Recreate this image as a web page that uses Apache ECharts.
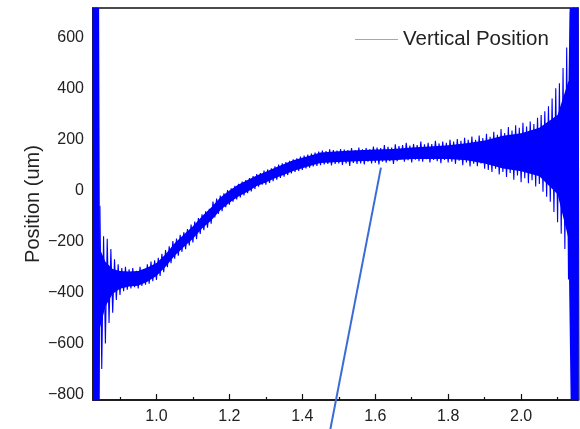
<!DOCTYPE html>
<html>
<head>
<meta charset="utf-8">
<script src="https://cdn.jsdelivr.net/npm/echarts@6/dist/echarts.min.js"></script>
<style>html,body{margin:0;padding:0;background:#fff;}#c{width:580px;height:429px;}</style>
</head>
<body>
<div id="c"></div>
<script>
// x sampling of the recorded trace (start and step of the acquisition grid)
const xStart = 0.825;
const xStep = 0.005;
// Vertical position readings (um), one per sample
const posValues = [
  1500,-1500,1500,-1500,-60,-700,-180,-600,-190,-520,
  -230,-480,-270,-430,-290,-410,-305,-395,-300,-390,
  -310,-385,-305,-380,-315,-385,-300,-375,-310,-370,
  -290,-366,-279,-356,-274,-351,-264,-336,-249,-321,
  -234,-301,-219,-286,-199,-268,-189,-256,-174,-241,
  -164,-231,-152,-216,-134,-204,-122,-191,-109,-171,
  -94,-156,-82,-146,-72,-131,-44,-106,-32,-92,
  -20,-82,-12,-66,1,-56,8,-44,18,-36,
  26,-28,34,-20,40,-11,48,-4,56,6,
  64,14,68,22,78,22,82,29,86,36,
  94,42,101,49,106,54,111,60,116,66,
  122,72,126,76,132,80,136,86,140,89,
  144,94,148,96,152,99,156,102,154,104,
  161,98,158,104,156,106,162,100,160,106,
  158,96,166,108,158,104,168,106,161,102,
  166,112,161,106,172,108,168,102,166,112,
  178,108,171,114,168,104,181,114,174,122,
  178,112,186,118,176,109,182,120,178,114,
  191,112,181,122,186,109,182,119,194,114,
  184,106,191,119,186,109,198,112,191,104,
  201,116,194,99,206,109,198,94,211,104,
  198,95,215,105,205,85,222,80,210,72,
  230,85,218,62,240,72,225,52,248,68,
  235,42,255,58,245,32,265,48,250,28,
  270,40,260,15,285,25,295,-5,310,-25,
  330,-45,360,-85,400,-125,420,-170,480,-230,
  560,-350,700,-600,1500,-1500,1500,-1500
];
// dense core of the noise band: x, lower edge, upper edge (um)
const bandX    = [0.826, 0.841, 0.845, 0.86, 0.88, 0.90, 0.925, 0.95, 0.975, 1.0, 1.025, 1.05, 1.075, 1.1, 1.125, 1.15, 1.175, 1.2, 1.225, 1.25, 1.275, 1.3, 1.325, 1.35, 1.375, 1.4, 1.425, 1.45, 1.5, 1.55, 1.6, 1.65, 1.7, 1.75, 1.8, 1.85, 1.9, 1.95, 2.0, 2.05, 2.1, 2.13, 2.142, 2.156];
const bandLow  = [-1500, -1500, -540, -455, -405, -386, -377, -374, -358, -336, -300, -256, -222, -190, -150, -118, -78, -49, -24, -5, 17, 31, 47, 61, 76, 87, 97, 107, 111, 114, 116, 118, 123, 123, 123, 118, 105, 86, 75, 55, -15, -190, -1500, -1500];
const bandHigh = [1500, 1500, -230, -280, -308, -316, -318, -316, -302, -285, -251, -207, -173, -141, -102, -67, -28, -1, 23, 41, 58, 73, 89, 103, 118, 128, 138, 148, 153, 157, 160, 162, 168, 172, 177, 185, 195, 214, 224, 245, 295, 430, 1500, 1500];
// axis ranges and tick labels
const xMin = 0.826, xMax = 2.156;
const yMin = -822, yMax = 715;
const xTicks = [1.0, 1.2, 1.4, 1.6, 1.8, 2.0];
const xMinorTicks = [0.9, 1.1, 1.3, 1.5, 1.7, 1.9, 2.1];
const yTicks = [-800, -600, -400, -200, 0, 200, 400, 600];
const yMinorTicks = [-700, -500, -300, -100, 100, 300, 500, 700];
// annotation pointer line (data coordinates of its two ends)
const pointerX = [1.6156, 1.4737];
const pointerY = [89, -960];

const seriesName = 'Vertical Position';
const yName = 'Position (um)';

const trace = posValues.map((v, i) => [xStart + i * xStep, v]);
const bandData = bandX.map((x, i) => [x, bandLow[i], bandHigh[i]]);
const pointer = pointerX.map((x, i) => [x, pointerY[i]]);

const font = 'Liberation Sans, Arial, sans-serif';
const axisCol = '#111';

function mkX(ticks, len, withLine, withLabel) {
  return {
    type: 'value', min: xMin, max: xMax, position: 'bottom', name: '',
    axisLine: { show: withLine, onZero: false, lineStyle: { color: axisCol, width: 1.5 } },
    axisTick: { show: true, inside: true, length: len, customValues: ticks, lineStyle: { color: axisCol, width: 1.2 } },
    axisLabel: withLabel ? { show: true, customValues: ticks, margin: 9, color: '#222', fontSize: 16, fontFamily: font,
      formatter: v => v.toFixed(1) } : { show: false },
    splitLine: { show: false }
  };
}
function mkY(ticks, len, withLine, withLabel) {
  return {
    type: 'value', min: yMin, max: yMax, position: 'left',
    name: withLabel ? yName : '', nameLocation: 'middle', nameGap: 50, nameRotate: 90, nameMoveOverlap: false,
    nameTextStyle: { fontSize: 20, color: '#222', fontFamily: font },
    axisLine: { show: withLine, onZero: false, lineStyle: { color: axisCol, width: 1.5 } },
    axisTick: { show: true, inside: true, length: len, customValues: ticks, lineStyle: { color: axisCol, width: 1.2 } },
    axisLabel: withLabel ? { show: true, customValues: ticks, margin: 9, color: '#222', fontSize: 16, fontFamily: font,
      formatter: v => String(v).replace('-', '\u2212') } : { show: false },
    splitLine: { show: false }
  };
}

const chart = echarts.init(document.getElementById('c'), null, { renderer: 'canvas' });
chart.setOption({
  animation: false,
  backgroundColor: '#fff',
  grid: { left: 93, right: 2, top: 8, bottom: 29, show: true, borderColor: axisCol, borderWidth: 1.5, backgroundColor: 'transparent' },
  legend: {
    show: true, type: 'plain', orient: 'horizontal',
    data: [{ name: seriesName }], left: 355, top: 29, padding: 0,
    icon: 'rect', itemWidth: 43, itemHeight: 1.2, itemGap: 5,
    itemStyle: { color: '#93a6e6' },
    textStyle: { fontSize: 20.5, color: '#222', fontFamily: font }
  },
  xAxis: [mkX(xTicks, 6, true, true), mkX(xMinorTicks, 3, false, false)],
  yAxis: [mkY(yTicks, 6, true, true), mkY(yMinorTicks, 3, false, false)],
  series: [
    {
      name: 'band', type: 'custom', data: bandData, clip: true, silent: true, z: 2,
      encode: { x: 0, y: [1, 2] },
      renderItem: (params, api) => {
        if (params.dataIndex !== 0) return null;
        const pts = [];
        for (let i = 0; i < bandX.length; i++) pts.push(api.coord([bandX[i], bandHigh[i]]));
        for (let i = bandX.length - 1; i >= 0; i--) pts.push(api.coord([bandX[i], bandLow[i]]));
        return { type: 'polygon', shape: { points: pts }, style: { fill: '#0000ff' } };
      }
    },
    {
      name: seriesName, type: 'line', data: trace, symbol: 'none', showSymbol: false,
      lineStyle: { color: '#0000ff', width: 1.1 }, itemStyle: { color: '#0000ff' },
      clip: true, sampling: false, z: 3
    },
    {
      name: 'pointer', type: 'line', data: pointer, symbol: 'none', showSymbol: false,
      lineStyle: { color: '#3a6cd6', width: 2 }, clip: false, z: 5, silent: true
    }
  ]
});
</script>
</body>
</html>
